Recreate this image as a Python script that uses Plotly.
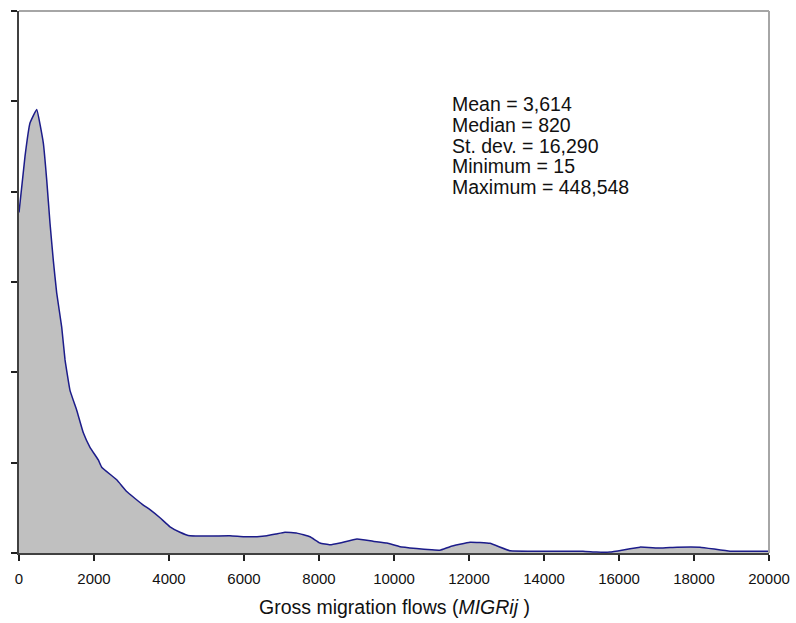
import plotly.graph_objects as go

# Kernel density of gross migration flows (arbitrary density units)
flows = [0, 160, 293, 472, 648, 739, 827, 915, 1005, 1139, 1227, 1360, 1539, 1715,
         1893, 2115, 2205, 2605, 2872, 3315, 3493, 3760, 4027, 4293, 4560, 5627,
         6000, 6347, 6613, 6850, 7093, 7413, 7760, 8027, 8293, 8560, 9013, 9440,
         9813, 10160, 10600, 11000, 11227, 11493, 12027, 12560, 13093, 14000,
         15040, 15400, 15760, 16560, 17093, 17547, 18160, 18960, 20000]
density = [3.77, 4.39, 4.76, 4.91, 4.54, 4.13, 3.65, 3.24, 2.88, 2.50, 2.14, 1.80,
           1.58, 1.33, 1.17, 1.03, 0.95, 0.81, 0.68, 0.53, 0.48, 0.39, 0.29, 0.23,
           0.19, 0.19, 0.18, 0.18, 0.19, 0.21, 0.23, 0.22, 0.18, 0.11, 0.09, 0.11,
           0.155, 0.13, 0.11, 0.07, 0.05, 0.035, 0.03, 0.07, 0.12, 0.107, 0.025,
           0.02, 0.02, 0.01, 0.01, 0.065, 0.055, 0.065, 0.065, 0.02, 0.02]

x_ticks = [0, 2000, 4000, 6000, 8000, 10000, 12000, 14000, 16000, 18000, 20000]
x_tick_labels = [str(v) for v in x_ticks]

stat_labels = ["Mean", "Median", "St. dev.", "Minimum", "Maximum"]
stat_values = ["3,614", "820", "16,290", "15", "448,548"]

FONT = "Liberation Sans, Arial, sans-serif"
W, H = 796, 623
L, R, T, B = 19, 27, 11, 70
plot_h = H - T - B

fig = go.Figure()
fig.add_trace(go.Scatter(
    x=flows, y=density, mode="lines",
    line=dict(color="#1c1c8a", width=1.5, shape="spline", smoothing=0.3),
    fill="tozeroy", fillcolor="#c0c0c0",
    hoverinfo="skip", showlegend=False,
))

annotations = []
for i, (lab, val) in enumerate(zip(stat_labels, stat_values)):
    y_px = 104 + 20.8 * i
    annotations.append(dict(
        x=(450 - L) / (W - L - R), xref="paper", xanchor="left",
        y=(H - B - y_px) / plot_h, yref="paper", yanchor="middle",
        text=f"{lab} = {val}", showarrow=False,
        font=dict(family=FONT, size=19.5, color="#111111"),
    ))
annotations.append(dict(
    x=0.5, xref="paper", xanchor="center",
    y=(H - B - 607) / plot_h, yref="paper", yanchor="middle",
    text="Gross migration flows (<i>MIGRij</i> )", showarrow=False,
    font=dict(family=FONT, size=19.5, color="#111111"),
))

fig.update_layout(
    width=W, height=H,
    margin=dict(l=L, r=R, t=T, b=B, autoexpand=False),
    paper_bgcolor="white", plot_bgcolor="white",
    annotations=annotations,
    shapes=[
        dict(type="line", xref="paper", yref="paper", x0=0, x1=1, y0=1, y1=1,
             line=dict(color="#a6a6a6", width=2)),
        dict(type="line", xref="paper", yref="paper", x0=1, x1=1, y0=0, y1=1,
             line=dict(color="#a6a6a6", width=2)),
    ],
)
fig.update_xaxes(
    range=[0, 20000], tickvals=x_ticks, ticktext=x_tick_labels,
    showgrid=False, zeroline=False,
    showline=True, linecolor="#404040", linewidth=2,
    ticks="outside", ticklen=6, tickwidth=1.5, tickcolor="#202020",
    ticklabelstandoff=5,
    tickfont=dict(family=FONT, size=15, color="#111111"),
)
fig.update_yaxes(
    range=[0, 6], dtick=1, tick0=0,
    showgrid=False, zeroline=False, showticklabels=False,
    showline=True, linecolor="#404040", linewidth=2,
    ticks="outside", ticklen=6, tickwidth=1.5, tickcolor="#202020",
)

fig.write_html("out.html")
